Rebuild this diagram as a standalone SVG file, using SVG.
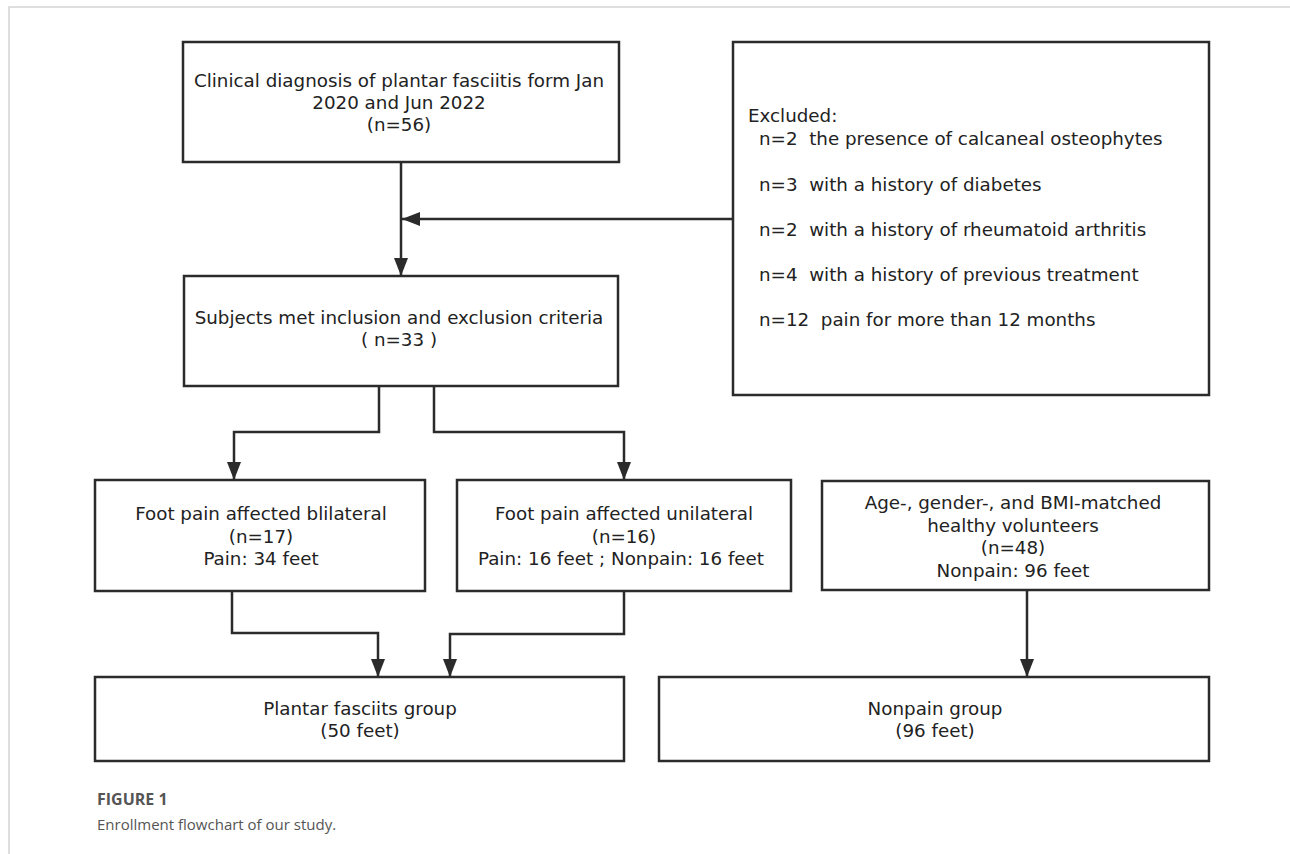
<svg xmlns="http://www.w3.org/2000/svg" width="1290" height="854" viewBox="0 0 1290 854">
<style>
.box{fill:#fff;stroke:#2b2b2b;stroke-width:2.5}
.t{font-family:"DejaVu Sans","Open Sans","Liberation Sans",sans-serif;font-size:18.3px;fill:#222}
.c{text-anchor:middle}
.ln{fill:none;stroke:#2b2b2b;stroke-width:2.5}
.cap1{font-family:"Open Sans","Noto Sans","Liberation Sans",sans-serif;font-size:16px;font-weight:bold;fill:#555}
.cap2{font-family:"Open Sans","Noto Sans","Liberation Sans",sans-serif;font-size:15px;fill:#555}
</style>
<defs>
<marker id="ah" viewBox="0 0 18 14" refX="18" refY="7" markerWidth="18" markerHeight="14" markerUnits="userSpaceOnUse" orient="auto">
<path d="M0,0 L18,7 L0,14 Z" fill="#2b2b2b"/>
</marker>
</defs>
<rect width="1290" height="854" fill="#fff"/>
<path d="M9,854 L9,7 L1290,7" fill="none" stroke="#d4d4d4" stroke-width="1.5"/>

<g id="connectors">
<path class="ln" d="M401,162 L401,276" marker-end="url(#ah)"/>
<path class="ln" d="M733,219 L402,219" marker-end="url(#ah)"/>
<path class="ln" d="M379,386 L379,432 L234,432 L234,480" marker-end="url(#ah)"/>
<path class="ln" d="M434,386 L434,432 L624,432 L624,480" marker-end="url(#ah)"/>
<path class="ln" d="M232,591 L232,633 L378,633 L378,677" marker-end="url(#ah)"/>
<path class="ln" d="M624,591 L624,634 L450,634 L450,677" marker-end="url(#ah)"/>
<path class="ln" d="M1027,590 L1027,677" marker-end="url(#ah)"/>
</g>

<g id="clinical">
<rect class="box" x="183" y="42" width="436" height="120"/>
<text class="t c" x="399" y="87">Clinical diagnosis of plantar fasciitis form Jan</text>
<text class="t c" x="399" y="109">2020 and Jun 2022</text>
<text class="t c" x="399" y="131">(n=56)</text>
</g>

<g id="excluded">
<rect class="box" x="733" y="42" width="476" height="353"/>
<text class="t" x="748" y="122">Excluded:</text>
<text class="t" x="759" y="145" xml:space="preserve">n=2  the presence of calcaneal osteophytes</text>
<text class="t" x="759" y="191" xml:space="preserve">n=3  with a history of diabetes</text>
<text class="t" x="759" y="236" xml:space="preserve">n=2  with a history of rheumatoid arthritis</text>
<text class="t" x="759" y="281" xml:space="preserve">n=4  with a history of previous treatment</text>
<text class="t" x="759" y="326" xml:space="preserve">n=12  pain for more than 12 months</text>
</g>

<g id="subjects">
<rect class="box" x="184" y="276" width="434" height="110"/>
<text class="t c" x="399" y="324">Subjects met inclusion and exclusion criteria</text>
<text class="t c" x="399" y="346">( n=33 )</text>
</g>

<g id="bilateral">
<rect class="box" x="95" y="480" width="330" height="111"/>
<text class="t c" x="261" y="520">Foot pain affected blilateral</text>
<text class="t c" x="261" y="542.5">(n=17)</text>
<text class="t c" x="261" y="565">Pain: 34 feet</text>
</g>

<g id="unilateral">
<rect class="box" x="457" y="480" width="334" height="111"/>
<text class="t c" x="624" y="520">Foot pain affected unilateral</text>
<text class="t c" x="624" y="542.5">(n=16)</text>
<text class="t c" x="621" y="565">Pain: 16 feet ; Nonpain: 16 feet</text>
</g>

<g id="healthy">
<rect class="box" x="822" y="481" width="387" height="109"/>
<text class="t c" x="1013" y="509">Age-, gender-, and BMI-matched</text>
<text class="t c" x="1013" y="532">healthy volunteers</text>
<text class="t c" x="1013" y="554">(n=48)</text>
<text class="t c" x="1013" y="577">Nonpain: 96 feet</text>
</g>

<g id="plantar">
<rect class="box" x="95" y="677" width="529" height="84"/>
<text class="t c" x="360" y="715">Plantar fasciits group</text>
<text class="t c" x="360" y="737">(50 feet)</text>
</g>

<g id="nonpain">
<rect class="box" x="659" y="677" width="550" height="84"/>
<text class="t c" x="935" y="715">Nonpain group</text>
<text class="t c" x="935" y="737">(96 feet)</text>
</g>

<g id="caption">
<text class="cap1" x="97" y="805">FIGURE 1</text>
<text class="cap2" x="97" y="830">Enrollment flowchart of our study.</text>
</g>
</svg>
